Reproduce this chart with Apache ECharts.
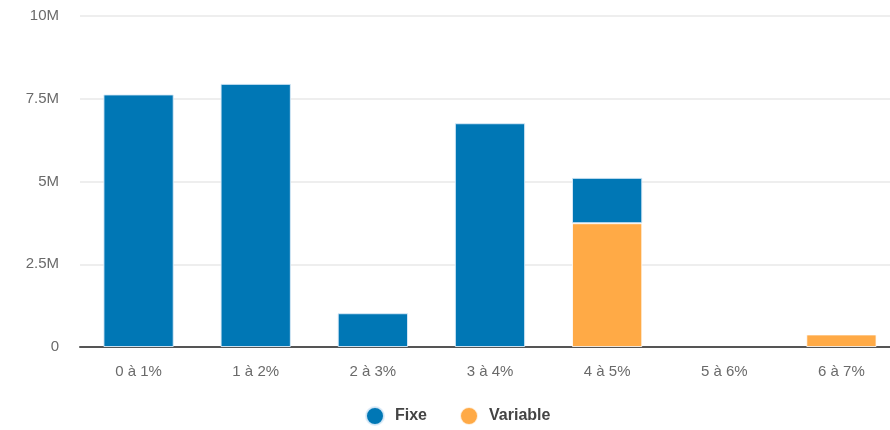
<!DOCTYPE html>
<html>
<head>
<meta charset="utf-8">
<script src="https://cdn.jsdelivr.net/npm/echarts@6/dist/echarts.min.js"></script>
<style>
  html, body { margin: 0; padding: 0; background: #fff; }
  #chart { width: 890px; height: 430px; }
</style>
</head>
<body>
<div id="chart"></div>
<script>
// Rate bands (taux) and outstanding amounts per rate type
const categories = ['0 à 1%', '1 à 2%', '2 à 3%', '3 à 4%', '4 à 5%', '5 à 6%', '6 à 7%'];
const fixeValues = [7630000, 7950000, 1020000, 6760000, 1370000, null, null];
const variableValues = [null, null, null, null, 3740000, null, 380000];
const yTicks = [0, 2500000, 5000000, 7500000, 10000000];

const fontFamily = '"Liberation Sans", Arial, Helvetica, sans-serif';

function formatM(v) {
  if (v === 0) return '0';
  return (v / 1000000) + 'M';
}

const chart = echarts.init(document.getElementById('chart'), null, { renderer: 'canvas' });
chart.setOption({
  animation: false,
  textStyle: { fontFamily: fontFamily },
  // plot area runs slightly past the right edge of the canvas
  grid: { left: 80, width: 820, top: 16, bottom: 83, containLabel: false, outerBoundsMode: 'none' },
  legend: {
    data: ['Fixe', 'Variable'],
    left: 360,
    top: 401,
    icon: 'circle',
    itemWidth: 18,
    itemHeight: 18,
    itemGap: 32,
    textStyle: { fontFamily: fontFamily, fontSize: 16, fontWeight: 'bold', color: '#444', padding: [0, 0, 0, 6] }
  },
  xAxis: {
    type: 'category',
    data: categories,
    axisTick: { show: false },
    axisLine: { show: true, lineStyle: { color: '#555', width: 2 } },
    axisLabel: { color: '#6a6a6a', fontSize: 15, margin: 17, fontFamily: fontFamily }
  },
  yAxis: {
    type: 'value',
    min: yTicks[0],
    max: yTicks[yTicks.length - 1],
    interval: yTicks[1] - yTicks[0],
    axisLine: { show: false },
    axisTick: { show: false },
    axisLabel: { color: '#6a6a6a', fontSize: 15, margin: 21, padding: [5, 0, 0, 0], formatter: formatM, fontFamily: fontFamily },
    splitLine: { lineStyle: { color: '#e8e8e8', width: 1.5 } }
  },
  series: [
    {
      name: 'Variable',
      type: 'bar',
      stack: 'total',
      data: variableValues,
      barWidth: '60%',
      itemStyle: { color: '#ffaa46', borderColor: 'rgba(255,255,255,0.8)', borderWidth: 1 }
    },
    {
      name: 'Fixe',
      type: 'bar',
      stack: 'total',
      data: fixeValues,
      barWidth: '60%',
      itemStyle: { color: '#0077b5', borderColor: 'rgba(220,235,248,0.9)', borderWidth: 1 }
    }
  ]
});
</script>
</body>
</html>
